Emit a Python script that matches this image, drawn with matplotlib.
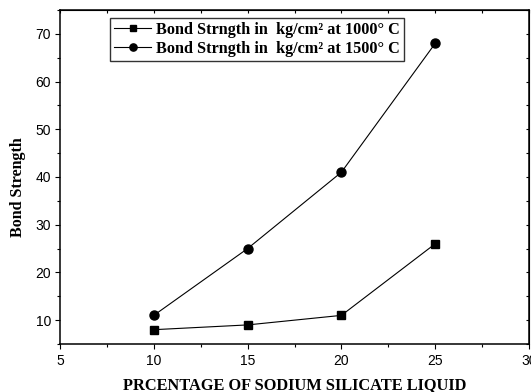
import matplotlib
matplotlib.use("Agg")
import matplotlib.pyplot as plt
from matplotlib.ticker import MultipleLocator

percent = [10, 15, 20, 25]
strength_1000 = [8, 9, 11, 26]
strength_1500 = [11, 25, 41, 68]
labels = ["Bond Strngth in  kg/cm\u00b2 at 1000\u00b0 C", "Bond Strngth in  kg/cm\u00b2 at 1500\u00b0 C"]

W, H = 531, 392
fig = plt.figure(figsize=(W/100, H/100), dpi=100)
L, R, T, B = 60, 529, 10, 344
ax = fig.add_axes([L/W, 1-B/H, (R-L)/W, (B-T)/H])
ax.plot(percent, strength_1000, color="black", lw=0.8, marker="s", ms=6, label=labels[0])
ax.plot(percent, strength_1500, color="black", lw=0.8, marker="o", ms=6.5, label=labels[1])
ax.set_xlim(5, 30)
ax.set_ylim(5, 75)
ax.xaxis.set_major_locator(MultipleLocator(5))
ax.xaxis.set_minor_locator(MultipleLocator(2.5))
ax.yaxis.set_major_locator(MultipleLocator(10))
ax.yaxis.set_minor_locator(MultipleLocator(5))
ax.set_yticks([10, 20, 30, 40, 50, 60, 70])
ax.tick_params(which="both", direction="out", labelsize=10, width=0.8, pad=3)
ax.tick_params(which="major", length=3.5)
ax.tick_params(which="minor", length=2.2)
ax.tick_params(axis="x", pad=4)
for lab in ax.get_xticklabels() + ax.get_yticklabels():
    lab.set_fontfamily("Liberation Sans")
for s in ax.spines.values():
    s.set_linewidth(1.1)

# inward ticks on top and right
axt = ax.secondary_xaxis("top")
axt.xaxis.set_major_locator(MultipleLocator(5))
axt.xaxis.set_minor_locator(MultipleLocator(2.5))
axt.tick_params(which="both", direction="in", labeltop=False, width=0.8, length=2.5)
axr = ax.secondary_yaxis("right")
axr.yaxis.set_major_locator(MultipleLocator(10))
axr.yaxis.set_minor_locator(MultipleLocator(5))
axr.tick_params(which="both", direction="in", labelright=False, width=0.8, length=2.5)

ax.set_xlabel("PRCENTAGE OF SODIUM SILICATE LIQUID", fontfamily="Liberation Serif",
              fontweight="bold", fontsize=11.8)
ax.xaxis.set_label_coords(0.5, -(385.5 - B)/(B - T))
ax.xaxis.label.set_va("center")
ax.set_ylabel("Bond Strength", fontfamily="Liberation Serif", fontweight="bold", fontsize=11.5)
ax.yaxis.set_label_coords(-(L - 18)/(R - L), (B - 187)/(B - T))
ax.yaxis.label.set_va("center")

leg = ax.legend(loc="upper left", bbox_to_anchor=((110 - L)/(R - L), 1 - (17.6 - T)/(B - T)),
                prop={"family": "Liberation Serif", "weight": "bold", "size": 11.7},
                frameon=True, fancybox=False, edgecolor="black", handlelength=2.3, borderpad=0.25,
                labelspacing=0.2, handletextpad=0.3, borderaxespad=0, markerscale=0.8)
leg.get_frame().set_linewidth(1.0)
fig.savefig("out.png", dpi=100)
